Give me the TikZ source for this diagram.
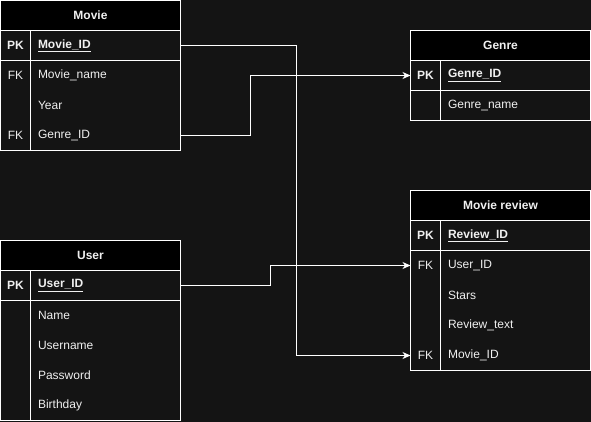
\documentclass[tikz,border=0pt]{standalone}
\usepackage{fontspec}
\setmainfont{Liberation Sans}
\usetikzlibrary{arrows.meta}
\definecolor{bgc}{HTML}{141414}
\definecolor{txt}{HTML}{F0F0F0}
\begin{document}
\begin{tikzpicture}[x=1pt,y=-1pt,
  every node/.style={inner sep=0pt,outer sep=0pt},
  hdr/.style={rectangle,draw=white,line width=1pt,fill=black,minimum width=180pt,minimum height=30pt,anchor=north west,text=txt,font=\fontsize{12}{14}\selectfont\bfseries},
  pkrow/.style={rectangle,draw=white,line width=1pt,minimum width=180pt,minimum height=30pt,anchor=north west},
  frow/.style={rectangle,minimum width=180pt,minimum height=30pt,anchor=north west},
  tbl/.style={rectangle,draw=white,line width=1pt,minimum width=180pt,anchor=north west},
  keyt/.style={text=txt,font=\fontsize{12}{14}\selectfont,anchor=center},
  pkt/.style={keyt,font=\fontsize{12}{14}\selectfont\bfseries},
  fldt/.style={text=txt,font=\fontsize{12}{14}\selectfont,anchor=west},
  divl/.style={draw=white,line width=1pt},
  conn/.style={draw=white,line width=1pt,-{Stealth[length=8pt,width=7pt,inset=2.5pt]}},
  plain/.style={draw=white,line width=1pt}]
\fill[bgc] (0,0) rectangle (591,422);
\useasboundingbox (0,0) rectangle (591,422);

% ---------- Movie ----------
\node[tbl,minimum height=150pt] (movie) at (0.5,0.5) {};
\node[hdr] (movie-h) at (0.5,0.5) {Movie};
\node[pkrow] (movie-pk) at (0.5,30.5) {};
\node[frow] (movie-r1) at (0.5,60.5) {};
\node[frow] (movie-r2) at (0.5,90.5) {};
\node[frow] (movie-r3) at (0.5,120.5) {};
\draw[divl] (30.5,30.5) -- (30.5,150.5);
\node[pkt] (movie-pkk) at (15.5,45.5) {PK};
\node[fldt] (movie-pkf) at (38,45.5) {\bfseries\underline{Movie\_ID}};
\node[keyt] (movie-k1) at (15.5,75.5) {FK};
\node[fldt] (movie-f1) at (38,75.5) {Movie\_name};
\node[fldt] (movie-f2) at (38,105.5) {Year};
\node[keyt] (movie-k3) at (15.5,135.5) {FK};
\node[fldt] (movie-f3) at (38,135.5) {Genre\_ID};

% ---------- Genre ----------
\node[tbl,minimum height=90pt] (genre) at (410.5,30.5) {};
\node[hdr] (genre-h) at (410.5,30.5) {Genre};
\node[pkrow] (genre-pk) at (410.5,60.5) {};
\node[frow] (genre-r1) at (410.5,90.5) {};
\draw[divl] (440.5,60.5) -- (440.5,120.5);
\node[pkt] (genre-pkk) at (425.5,75.5) {PK};
\node[fldt] (genre-pkf) at (448,75.5) {\bfseries\underline{Genre\_ID}};
\node[fldt] (genre-f1) at (448,105.5) {Genre\_name};

% ---------- Movie review ----------
\node[tbl,minimum height=180pt] (rev) at (410.5,190.5) {};
\node[hdr] (rev-h) at (410.5,190.5) {Movie review};
\node[pkrow] (rev-pk) at (410.5,220.5) {};
\node[frow] (rev-r1) at (410.5,250.5) {};
\node[frow] (rev-r2) at (410.5,280.5) {};
\node[frow] (rev-r3) at (410.5,310.5) {};
\node[frow] (rev-r4) at (410.5,340.5) {};
\draw[divl] (440.5,220.5) -- (440.5,370.5);
\node[pkt] (rev-pkk) at (425.5,235.5) {PK};
\node[fldt] (rev-pkf) at (448,235.5) {\bfseries\underline{Review\_ID}};
\node[keyt] (rev-k1) at (425.5,265.5) {FK};
\node[fldt] (rev-f1) at (448,265.5) {User\_ID};
\node[fldt] (rev-f2) at (448,295.5) {Stars};
\node[fldt] (rev-f3) at (448,325.5) {Review\_text};
\node[keyt] (rev-k4) at (425.5,355.5) {FK};
\node[fldt] (rev-f4) at (448,355.5) {Movie\_ID};

% ---------- User ----------
\node[tbl,minimum height=180pt] (user) at (0.5,240.5) {};
\node[hdr] (user-h) at (0.5,240.5) {User};
\node[pkrow] (user-pk) at (0.5,270.5) {};
\node[frow] (user-r1) at (0.5,300.5) {};
\node[frow] (user-r2) at (0.5,330.5) {};
\node[frow] (user-r3) at (0.5,360.5) {};
\node[frow] (user-r4) at (0.5,390.5) {};
\draw[divl] (30.5,270.5) -- (30.5,420.5);
\node[pkt] (user-pkk) at (15.5,285.5) {PK};
\node[fldt] (user-pkf) at (38,285.5) {\bfseries\underline{User\_ID}};
\node[fldt] (user-f1) at (38,315.5) {Name};
\node[fldt] (user-f2) at (38,345.5) {Username};
\node[fldt] (user-f3) at (38,375.5) {Password};
\node[fldt] (user-f4) at (38,405.5) {Birthday};

% ---------- Connectors ----------
\draw[conn] (movie-pk.east) -- ++(115.5,0) |- (rev-r4.west);
\draw[conn] (movie-r3.east) -- ++(69.5,0) |- (genre-pk.west);
\draw[conn] (user-pk.east) -- ++(89.5,0) |- (rev-r1.west);
\end{tikzpicture}
\end{document}
